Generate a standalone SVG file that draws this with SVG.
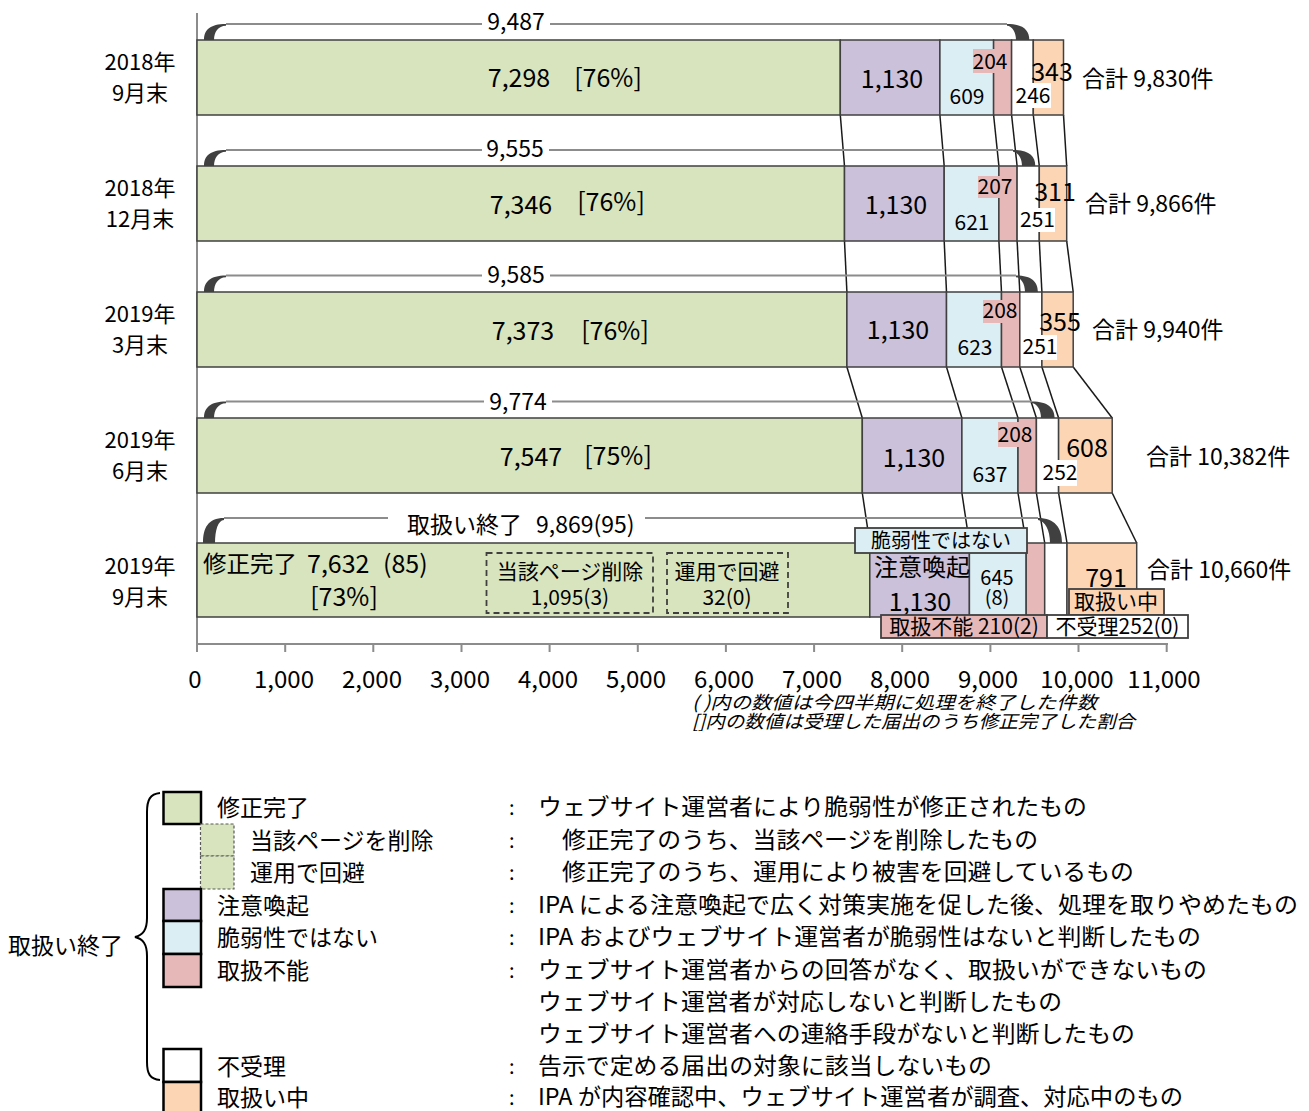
<svg xmlns="http://www.w3.org/2000/svg" width="1309" height="1111" viewBox="0 0 1309 1111">
<style>
text{font-family:"Noto Sans CJK JP","Noto Sans",sans-serif;fill:#000}
.s25{font-size:25px}.s24{font-size:24px}.s23{font-size:23px}.s22{font-size:22px}.s21{font-size:21px}.s20{font-size:20px}
.m{text-anchor:middle}
.bar{stroke:#404040;stroke-width:1.5}
.g{fill:#d7e4bd}.p{fill:#ccc1da}.b{fill:#dbeef4}.r{fill:#e6b9b8}.w{fill:#fff}.o{fill:#fcd5b5}
.brl{stroke:#8c8c8c;stroke-width:2;fill:none}
.brc{fill:#404040}
.con line{stroke:#1a1a1a;stroke-width:1.5}
.axis{stroke:#8c8c8c;stroke-width:2;fill:none}
.lbx{stroke:#404040;stroke-width:1.8}
.lg{stroke:#000;stroke-width:2.5}
.dash{stroke:#404040;stroke-width:1.8;stroke-dasharray:6,4;fill:none}
.ldash{stroke:#595959;stroke-width:1.2;stroke-dasharray:3,2}
.it{font-style:italic;font-size:18px}
</style>

<!-- axes -->
<g id="axes">
<line class="axis" x1="197" y1="13" x2="197" y2="644"/>
<line class="axis" x1="197" y1="644" x2="1168" y2="644"/>
<path class="axis" d="M197 644V652M285.2 644V652M373.3 644V652M461.5 644V652M549.6 644V652M637.8 644V652M725.9 644V652M814.1 644V652M902.2 644V652M990.4 644V652M1078.5 644V652M1166.7 644V652"/>
<g class="s24 m">
<text x="195" y="688">0</text>
<text x="284" y="688">1,000</text>
<text x="372" y="688">2,000</text>
<text x="460" y="688">3,000</text>
<text x="548" y="688">4,000</text>
<text x="636" y="688">5,000</text>
<text x="724" y="688">6,000</text>
<text x="812" y="688">7,000</text>
<text x="900" y="688">8,000</text>
<text x="988" y="688">9,000</text>
<text x="1077" y="688">10,000</text>
<text x="1164" y="688">11,000</text>
</g>
<text class="it" x="692" y="709" textLength="405" lengthAdjust="spacingAndGlyphs">( )内の数値は今四半期に処理を終了した件数</text>
<text class="it" x="692" y="728" textLength="443" lengthAdjust="spacingAndGlyphs">[]内の数値は受理した届出のうち修正完了した割合</text>
</g>

<!-- category labels -->
<g id="categories" class="s22 m">
<text x="140" y="69.7">2018年</text><text x="140" y="100.7">9月末</text>
<text x="140" y="195.7">2018年</text><text x="140" y="226.7">12月末</text>
<text x="140" y="321.7">2019年</text><text x="140" y="352.7">3月末</text>
<text x="140" y="447.7">2019年</text><text x="140" y="478.7">6月末</text>
<text x="140" y="573.7">2019年</text><text x="140" y="604.7">9月末</text>
</g>

<!-- connectors between bars -->
<g id="connectors" class="con">
<line x1="840.3" y1="115" x2="844.5" y2="166"/><line x1="939.9" y1="115" x2="944.2" y2="166"/><line x1="993.6" y1="115" x2="998.9" y2="166"/><line x1="1011.6" y1="115" x2="1017.1" y2="166"/><line x1="1033.3" y1="115" x2="1039.3" y2="166"/><line x1="1063.5" y1="115" x2="1066.7" y2="166"/>
<line x1="844.5" y1="241" x2="846.9" y2="292"/><line x1="944.2" y1="241" x2="946.5" y2="292"/><line x1="998.9" y1="241" x2="1001.5" y2="292"/><line x1="1017.1" y1="241" x2="1019.8" y2="292"/><line x1="1039.3" y1="241" x2="1041.9" y2="292"/><line x1="1066.7" y1="241" x2="1073.2" y2="292"/>
<line x1="846.9" y1="367" x2="862.3" y2="418"/><line x1="946.5" y1="367" x2="961.9" y2="418"/><line x1="1001.5" y1="367" x2="1018" y2="418"/><line x1="1019.8" y1="367" x2="1036.4" y2="418"/><line x1="1041.9" y1="367" x2="1058.6" y2="418"/><line x1="1073.2" y1="367" x2="1112.2" y2="418"/>
<line x1="862.3" y1="493" x2="869.8" y2="543"/><line x1="961.9" y1="493" x2="969.4" y2="543"/><line x1="1018" y1="493" x2="1026.2" y2="543"/><line x1="1036.4" y1="493" x2="1044.7" y2="543"/><line x1="1058.6" y1="493" x2="1067" y2="543"/><line x1="1112.2" y1="493" x2="1136.7" y2="543"/>
</g>

<!-- row 1 -->
<g id="row1">
<rect class="bar g" x="197" y="40" width="643.3" height="75"/>
<rect class="bar p" x="840.3" y="40" width="99.6" height="75"/>
<rect class="bar b" x="939.9" y="40" width="53.7" height="75"/>
<rect class="bar r" x="993.6" y="40" width="18" height="75"/>
<rect class="bar w" x="1011.6" y="40" width="21.7" height="75"/>
<rect class="bar o" x="1033.3" y="40" width="30.2" height="75"/>
<path class="brl" d="M226 24H482M550 24H1007"/>
<path class="brc" d="M204 40C204 30 210 24 226 24L226 25.8C218 26 214 32 214 40Z"/>
<path class="brc" d="M1029.3 40C1029.3 30 1023 24 1007 24L1007 25.8C1012 26 1016 32 1016 40Z"/>
<text class="s23 m" x="516" y="30">9,487</text>
<text class="s25 m" x="519" y="86.7">7,298</text>
<text class="s25 m" x="608" y="86.7">[76%]</text>
<text class="s25 m" x="892" y="87.7">1,130</text>
<text class="s21 m" x="967" y="104.4">609</text>
<rect class="r" x="973" y="49" width="34" height="24"/>
<text class="s21 m" x="990" y="69.4">204</text>
<rect class="w" x="1015" y="83" width="36" height="25"/>
<text class="s21 m" x="1033" y="103.4">246</text>
<text class="s25 m" x="1052" y="80.7">343</text>
<text class="s23" x="1082" y="87">合計 9,830件</text>
</g>

<!-- row 2 -->
<g id="row2">
<rect class="bar g" x="197" y="166" width="647.5" height="75"/>
<rect class="bar p" x="844.5" y="166" width="99.7" height="75"/>
<rect class="bar b" x="944.2" y="166" width="54.7" height="75"/>
<rect class="bar r" x="998.9" y="166" width="18.2" height="75"/>
<rect class="bar w" x="1017.1" y="166" width="22.2" height="75"/>
<rect class="bar o" x="1039.3" y="166" width="27.4" height="75"/>
<path class="brl" d="M226 150H482M549 150H1013"/>
<path class="brc" d="M204 166C204 156 210 150 226 150L226 151.8C218 152 214 158 214 166Z"/>
<path class="brc" d="M1035.3 166C1035.3 156 1029 150 1013 150L1013 151.8C1018 152 1022 158 1022 166Z"/>
<text class="s23 m" x="515" y="157">9,555</text>
<text class="s25 m" x="521" y="213.7">7,346</text>
<text class="s25 m" x="611" y="210.7">[76%]</text>
<text class="s25 m" x="896" y="213.7">1,130</text>
<text class="s21 m" x="972" y="230.4">621</text>
<rect class="r" x="978" y="176" width="34" height="22"/>
<text class="s21 m" x="995" y="194.4">207</text>
<rect class="w" x="1020" y="208" width="35" height="24"/>
<text class="s21 m" x="1037.5" y="227.4">251</text>
<text class="s25 m" x="1055" y="200.7">311</text>
<text class="s23" x="1085" y="212">合計 9,866件</text>
</g>

<!-- row 3 -->
<g id="row3">
<rect class="bar g" x="197" y="292" width="649.9" height="75"/>
<rect class="bar p" x="846.9" y="292" width="99.6" height="75"/>
<rect class="bar b" x="946.5" y="292" width="55" height="75"/>
<rect class="bar r" x="1001.5" y="292" width="18.3" height="75"/>
<rect class="bar w" x="1019.8" y="292" width="22.1" height="75"/>
<rect class="bar o" x="1041.9" y="292" width="31.3" height="75"/>
<path class="brl" d="M226 275.5H482M550 275.5H1016"/>
<path class="brc" d="M204 292C204 282 210 275.5 226 275.5L226 277.3C218 277.5 214 284 214 292Z"/>
<path class="brc" d="M1037.9 292C1037.9 282 1032 275.5 1016 275.5L1016 277.3C1021 277.5 1025 284 1025 292Z"/>
<text class="s23 m" x="516" y="283">9,585</text>
<text class="s25 m" x="523" y="339.7">7,373</text>
<text class="s25 m" x="615" y="339.7">[76%]</text>
<text class="s25 m" x="898" y="338.7">1,130</text>
<text class="s21 m" x="975" y="355.4">623</text>
<rect class="r" x="983" y="300" width="34" height="23"/>
<text class="s21 m" x="1000" y="318.4">208</text>
<rect class="w" x="1023" y="335" width="34" height="25"/>
<text class="s21 m" x="1040" y="354.4">251</text>
<text class="s25 m" x="1060" y="330.7">355</text>
<text class="s23" x="1092" y="338">合計 9,940件</text>
</g>

<!-- row 4 -->
<g id="row4">
<rect class="bar g" x="197" y="418" width="665.3" height="75"/>
<rect class="bar p" x="862.3" y="418" width="99.6" height="75"/>
<rect class="bar b" x="961.9" y="418" width="56.1" height="75"/>
<rect class="bar r" x="1018" y="418" width="18.4" height="75"/>
<rect class="bar w" x="1036.4" y="418" width="22.2" height="75"/>
<rect class="bar o" x="1058.6" y="418" width="53.6" height="75"/>
<path class="brl" d="M226 401.5H484M552 401.5H1032"/>
<path class="brc" d="M204 418C204 408 210 401.5 226 401.5L226 403.3C218 403.5 214 410 214 418Z"/>
<path class="brc" d="M1054.6 418C1054.6 408 1048 401.5 1032 401.5L1032 403.3C1037 403.5 1041 410 1041 418Z"/>
<text class="s23 m" x="518" y="410">9,774</text>
<text class="s25 m" x="531" y="465.7">7,547</text>
<text class="s25 m" x="618" y="464.7">[75%]</text>
<text class="s25 m" x="914" y="466.7">1,130</text>
<text class="s21 m" x="990" y="482.4">637</text>
<rect class="r" x="998" y="422" width="34" height="25"/>
<text class="s21 m" x="1015" y="442.4">208</text>
<rect class="w" x="1043" y="460" width="34" height="26"/>
<text class="s21 m" x="1060" y="480.4">252</text>
<text class="s25 m" x="1087" y="456.7">608</text>
<text class="s23" x="1146" y="465">合計 10,382件</text>
</g>

<!-- row 5 -->
<g id="row5">
<rect class="bar g" x="197" y="543" width="672.8" height="74"/>
<rect class="bar p" x="869.8" y="543" width="99.6" height="74"/>
<rect class="bar b" x="969.4" y="543" width="56.8" height="74"/>
<rect class="bar r" x="1026.2" y="543" width="18.5" height="74"/>
<rect class="bar w" x="1044.7" y="543" width="22.3" height="74"/>
<rect class="bar o" x="1067" y="543" width="69.7" height="74"/>
<path class="brl" d="M224 518H388M645 518H1038"/>
<path class="brc" d="M203 543C203 528 208 518 224 518L224 520C218 520.5 215 530 215 543Z"/>
<path class="brc" d="M1062 543C1062 528 1055 518 1038 518L1038 520C1045 521 1050 530 1050 543Z"/>
<text class="s23" x="407" y="533">取扱い終了</text>
<text class="s23" x="536" y="533">9,869(95)</text>
<text class="s23" x="203" y="572" textLength="94" lengthAdjust="spacingAndGlyphs">修正完了</text>
<text class="s25" x="307" y="572.5">7,632</text>
<text class="s25" x="383" y="572.5">(85)</text>
<text class="s25 m" x="344" y="605.7">[73%]</text>
<rect class="dash" x="486.5" y="553" width="166.5" height="60"/>
<text class="s21 m" x="570" y="579.4">当該ページ削除</text>
<text class="s21 m" x="570" y="605.4">1,095(3)</text>
<rect class="dash" x="667" y="553" width="121" height="60"/>
<text class="s21 m" x="727" y="579.4">運用で回避</text>
<text class="s21 m" x="727" y="605.4">32(0)</text>
<text class="m" style="font-size:24px" x="922" y="576.4">注意喚起</text>
<text class="s25 m" x="920" y="610.7">1,130</text>
<text class="s20 m" x="997" y="584.5">645</text>
<text class="s20 m" x="997" y="605">(8)</text>
<text class="s25 m" x="1106" y="586.7">791</text>
<rect class="lbx b" x="855" y="528" width="172" height="25"/>
<text class="s20 m" x="941" y="547.5">脆弱性ではない</text>
<rect class="lbx o" x="1069" y="589" width="95" height="26"/>
<text class="s21 m" x="1116" y="609.4">取扱い中</text>
<rect class="lbx r" x="881" y="615" width="166" height="23"/>
<text class="s21 m" x="964" y="634.4">取扱不能 210(2)</text>
<rect class="lbx w" x="1047" y="615" width="141" height="23"/>
<text class="s21 m" x="1117.5" y="634.4">不受理252(0)</text>
<text class="s23" x="1147" y="578">合計 10,660件</text>
</g>

<!-- legend -->
<g id="legend">
<path d="M160 793C150 794 147 800 147 812V918C147 930 143 935 135 937C143 939 147 944 147 956V1062C147 1074 150 1079 160 1080" fill="none" stroke="#000" stroke-width="2"/>
<text class="s23" x="8" y="954">取扱い終了</text>
<rect class="lg g" x="163.5" y="792" width="37.5" height="32"/>
<rect class="ldash g" x="200.5" y="824" width="33.5" height="32"/>
<rect class="ldash g" x="200.5" y="856" width="33.5" height="33"/>
<rect class="lg p" x="163.5" y="889" width="37.5" height="32"/>
<rect class="lg b" x="163.5" y="921" width="37.5" height="33"/>
<rect class="lg r" x="163.5" y="954" width="37.5" height="33"/>
<rect class="lg w" x="163.5" y="1049" width="37.5" height="33"/>
<rect class="lg o" x="163.5" y="1082" width="37.5" height="33"/>
<g class="s23">
<text x="217" y="816">修正完了</text>
<text x="250" y="849">当該ページを削除</text>
<text x="250" y="881">運用で回避</text>
<text x="217" y="914">注意喚起</text>
<text x="217" y="946">脆弱性ではない</text>
<text x="217" y="979">取扱不能</text>
<text x="217" y="1075">不受理</text>
<text x="217" y="1106">取扱い中</text>
</g>
<g class="s20">
<text x="509" y="815">:</text><text x="509" y="848">:</text><text x="509" y="880">:</text><text x="509" y="913">:</text>
<text x="509" y="945">:</text><text x="509" y="978">:</text><text x="509" y="1074">:</text><text x="509" y="1105">:</text>
</g>
<g class="s23">
<text x="538" y="815" textLength="549" lengthAdjust="spacingAndGlyphs">ウェブサイト運営者により脆弱性が修正されたもの</text>
<text x="562" y="848" textLength="476" lengthAdjust="spacingAndGlyphs">修正完了のうち、当該ページを削除したもの</text>
<text x="562" y="880" textLength="572" lengthAdjust="spacingAndGlyphs">修正完了のうち、運用により被害を回避しているもの</text>
<text x="538" y="913" textLength="760" lengthAdjust="spacingAndGlyphs">IPA による注意喚起で広く対策実施を促した後、処理を取りやめたもの</text>
<text x="538" y="945" textLength="663" lengthAdjust="spacingAndGlyphs">IPA およびウェブサイト運営者が脆弱性はないと判断したもの</text>
<text x="538" y="978" textLength="669" lengthAdjust="spacingAndGlyphs">ウェブサイト運営者からの回答がなく、取扱いができないもの</text>
<text x="538" y="1010" textLength="524" lengthAdjust="spacingAndGlyphs">ウェブサイト運営者が対応しないと判断したもの</text>
<text x="538" y="1042" textLength="597" lengthAdjust="spacingAndGlyphs">ウェブサイト運営者への連絡手段がないと判断したもの</text>
<text x="538" y="1074" textLength="454" lengthAdjust="spacingAndGlyphs">告示で定める届出の対象に該当しないもの</text>
<text x="538" y="1105" textLength="645" lengthAdjust="spacingAndGlyphs">IPA が内容確認中、ウェブサイト運営者が調査、対応中のもの</text>
</g>
</g>
</svg>
